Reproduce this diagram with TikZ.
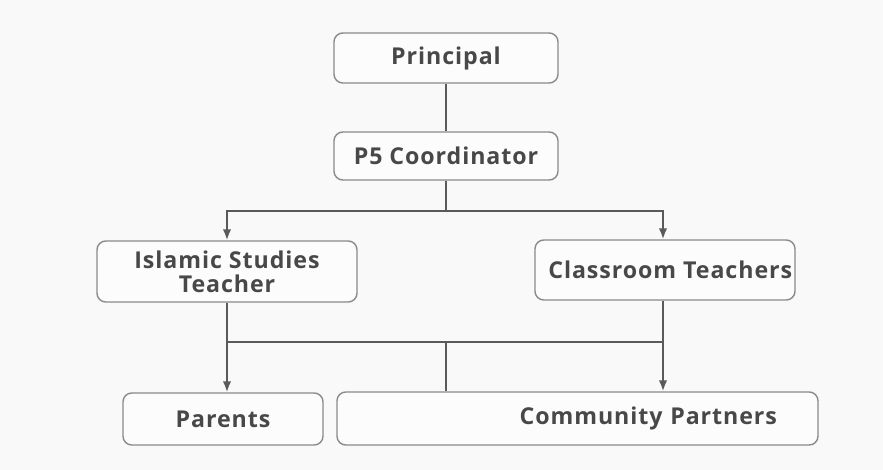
\documentclass[tikz,border=0pt]{standalone}
\usepackage{fontspec}
\setmainfont{Open Sans}[LetterSpace=4]
\usetikzlibrary{arrows.meta,positioning,calc}

\definecolor{inkgray}{HTML}{484848}
\definecolor{linegray}{HTML}{5A5A5A}
\definecolor{boxline}{HTML}{8A8A8A}
\definecolor{boxfill}{HTML}{FCFCFC}
\definecolor{paper}{HTML}{F9F9F9}

\begin{document}
\begin{tikzpicture}[
  x=0.02cm, y=-0.02cm,
  font=\fontsize{13.2}{15.5}\selectfont\bfseries,
  box/.style={draw=boxline, line width=0.8pt, rounded corners=5pt,
    fill=boxfill, text=inkgray, align=center, inner sep=0pt},
  link/.style={draw=linegray, line width=1.1pt},
  arr/.style={link, -{Latex[length=2.2mm, width=1.7mm]}}
]
  % page
  \fill[paper] (0,0) rectangle (883,470);
  \useasboundingbox (0,0) rectangle (883,470);

  % top of the chart
  \node[box, minimum width=224*0.02cm, minimum height=50*0.02cm] (principal) at (446,58) {Principal};
  \node[box, minimum width=224*0.02cm, minimum height=48*0.02cm] (coord) at (446,156) {P5 Coordinator};

  % teachers
  \node[box, minimum width=260*0.02cm, minimum height=61*0.02cm] (islamic) at (227,271.5) {Islamic Studies\\[-2pt]Teacher};
  \node[box, minimum width=260*0.02cm, minimum height=60*0.02cm] (classroom) at (665,270) {\hspace*{6pt}Classroom Teachers};

  % outside the school
  \node[box, minimum width=200*0.02cm, minimum height=52*0.02cm] (parents) at (223,419) {Parents};
  \node[box, minimum height=53*0.02cm, text width=399*0.02cm, inner xsep=41*0.02cm,
    align=right] (community) at (577.5,418.5) {Community Partners};

  \coordinate (split) at (446,211);
  \coordinate (merge) at (446,342);

  \draw[link] (principal) -- (coord);
  \draw[link] (coord) -- (split);
  \draw[arr] (split) -| (islamic.north);
  \draw[arr] (split) -| ([xshift=-2*0.02cm]classroom.north);

  \draw[arr] (islamic) -- (islamic.south |- parents.north);
  \draw[arr] ([xshift=-2*0.02cm]classroom.south) -- ([xshift=-2*0.02cm]classroom.south |- community.north);
  \draw[link] (islamic.south |- merge) -- ([xshift=-2*0.02cm]classroom.south |- merge);
  \draw[link] (merge) -- (merge |- community.north);
\end{tikzpicture}
\end{document}
